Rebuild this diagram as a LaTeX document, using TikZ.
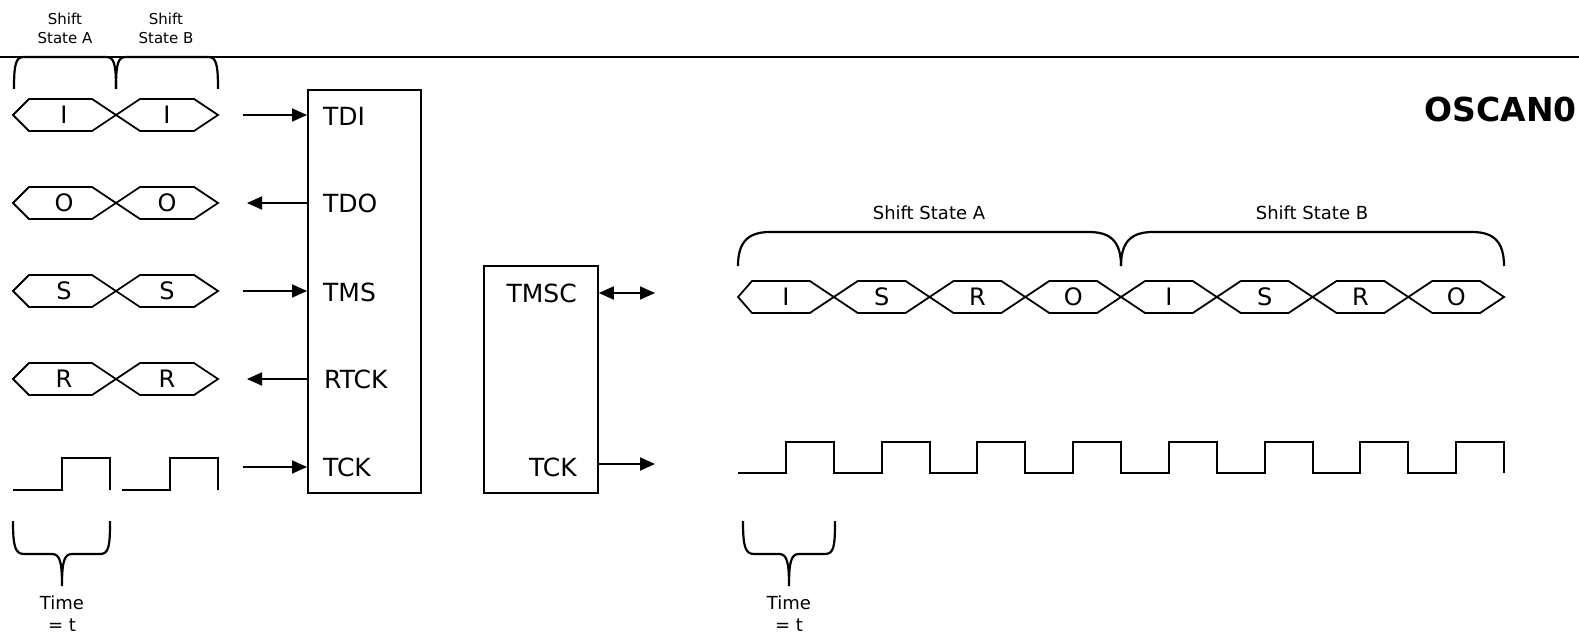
\documentclass[tikz,border=0pt]{standalone}
\usepackage{fontspec}
\setmainfont{DejaVu Sans}
\usetikzlibrary{arrows.meta}
\begin{document}
\begin{tikzpicture}[x=1pt,y=-1pt,
  wave/.style={line width=2pt, line join=miter},
  bracepath/.style={line width=2.2pt},
  hexpath/.style={line width=1.8pt, line join=miter},
  arrowline/.style={line width=1.8pt, -{Triangle[length=15pt,width=13pt]}},
  biarrow/.style={line width=1.8pt, {Triangle[length=15pt,width=13pt]}-{Triangle[length=15pt,width=13pt]}},
  box/.style={draw, line width=1.8pt, inner sep=0pt, anchor=north west},
  pinlabel/.style={font=\fontsize{25}{30}\selectfont, inner sep=0pt},
  hexlabel/.style={font=\fontsize{24}{28}\selectfont, inner sep=0pt},
  smalllabel/.style={font=\fontsize{15}{19}\selectfont, align=center, inner sep=0pt},
  midlabel/.style={font=\fontsize{18}{22}\selectfont, align=center, inner sep=0pt},
]
\useasboundingbox (0,0) rectangle (1579,636);

% top rule
\draw[line width=2.8pt] (0,57) -- (1579,57);

% top-left braces and labels
\draw[bracepath] (14,89) .. controls (14,63) and (16,57) .. (24,57) -- (106,57) .. controls (114,57) and (116,63) .. (116,89);
\draw[bracepath] (116,89) .. controls (116,63) and (118,57) .. (126,57) -- (208,57) .. controls (216,57) and (218,63) .. (218,89);
\node[smalllabel] (shiftA) at (65,28) {Shift\\State A};
\node[smalllabel] (shiftB) at (166,28) {Shift\\State B};

% left hexagon rows
\foreach \y/\l in {115/I,203/O,291/S,379/R}{
  \draw[hexpath] (13,\y) -- (29,\y-16) -- (92,\y-16) -- (116,\y) -- (92,\y+16) -- (29,\y+16) -- cycle;
  \draw[hexpath] (116,\y) -- (140,\y-16) -- (194,\y-16) -- (218,\y) -- (194,\y+16) -- (140,\y+16) -- cycle;
  \node[hexlabel] (hexa\l) at (64,\y) {\l};
  \node[hexlabel] (hexb\l) at (167,\y) {\l};
}

% left clock
\draw[wave] (13,490) -- (62,490) -- (62,458) -- (110,458) -- (110,490);
\draw[wave] (122,490) -- (170,490) -- (170,458) -- (218,458) -- (218,490);

% bottom-left brace
\draw[bracepath] (13,521) .. controls (13,546) and (15,554) .. (24,554) -- (52,554) .. controls (60,554) and (62,562) .. (62,586)
  .. controls (62,562) and (64,554) .. (72,554) -- (100,554) .. controls (109,554) and (110,546) .. (110,521);
\node[midlabel] (timeL) at (62,614) {Time\\= t};

% JTAG box
\node[box, minimum width=113pt, minimum height=403pt] (jtag) at (307,89) {};
\node[pinlabel, anchor=west] (tdi) at (323,116) {TDI};
\node[pinlabel, anchor=west] (tdo) at (323,203) {TDO};
\node[pinlabel, anchor=west] (tms) at (323,292) {TMS};
\node[pinlabel, anchor=west] (rtck) at (324,379) {RTCK};
\node[pinlabel, anchor=west] (tck) at (323,467) {TCK};

\coordinate (tdiS) at (243,115);
\coordinate (tdoE) at (247,203);
\coordinate (tmsS) at (243,291);
\coordinate (rtckE) at (247,379);
\coordinate (tckS) at (243,467);
\draw[arrowline] (tdiS) -- (tdiS -| jtag.west);
\draw[arrowline] (tdoE -| jtag.west) -- (tdoE);
\draw[arrowline] (tmsS) -- (tmsS -| jtag.west);
\draw[arrowline] (rtckE -| jtag.west) -- (rtckE);
\draw[arrowline] (tckS) -- (tckS -| jtag.west);

% cJTAG box
\node[box, minimum width=114pt, minimum height=227pt] (oscan) at (483,265) {};
\node[pinlabel, anchor=east] (tmsc) at (577,293) {TMSC};
\node[pinlabel, anchor=east] (tckr) at (577,467) {TCK};
\coordinate (tmscE) at (655,293);
\coordinate (tckrE) at (655,464);
\draw[biarrow] (tmscE -| oscan.east) -- (tmscE);
\draw[arrowline] (tckrE -| oscan.east) -- (tckrE);

% title
\node[font=\fontsize{33}{38}\selectfont\bfseries, anchor=east, inner sep=0pt] (title) at (1577,109) {OSCAN0};

% right braces and labels
\draw[bracepath] (738,266) .. controls (738,242) and (748,232) .. (770,232) -- (1089,232) .. controls (1111,232) and (1121,242) .. (1121,266);
\draw[bracepath] (1121,266) .. controls (1121,242) and (1131,232) .. (1153,232) -- (1472,232) .. controls (1494,232) and (1504,242) .. (1504,266);
\node[midlabel] (shiftAr) at (929,213) {Shift State A};
\node[midlabel] (shiftBr) at (1312,213) {Shift State B};

% right hexagon row
\foreach \k/\l/\lo in {0/I/14,1/S/24,2/R/24,3/O/24,4/I/24,5/S/24,6/R/24,7/O/24}{
  \draw[hexpath] ({738+95.75*\k},297) -- ({738+95.75*\k+\lo},281) -- ({738+95.75*(\k+1)-24},281) -- ({738+95.75*(\k+1)},297) -- ({738+95.75*(\k+1)-24},313) -- ({738+95.75*\k+\lo},313) -- cycle;
  \node[hexlabel] (hexr\k) at ({738+95.75*\k+48},297) {\l};
}

% right clock
\draw[wave] (738,473) \foreach \k in {0,...,7}{ -- ({738+95.75*\k+47.875},473) -- ({738+95.75*\k+47.875},442) -- ({738+95.75*(\k+1)},442) -- ({738+95.75*(\k+1)},473) };

% bottom-right brace
\draw[bracepath] (743,521) .. controls (743,546) and (745,554) .. (754,554) -- (779,554) .. controls (787,554) and (789,562) .. (789,586)
  .. controls (789,562) and (791,554) .. (799,554) -- (825,554) .. controls (834,554) and (835,546) .. (835,521);
\node[midlabel] (timeR) at (789,614) {Time\\= t};
\end{tikzpicture}
\end{document}
